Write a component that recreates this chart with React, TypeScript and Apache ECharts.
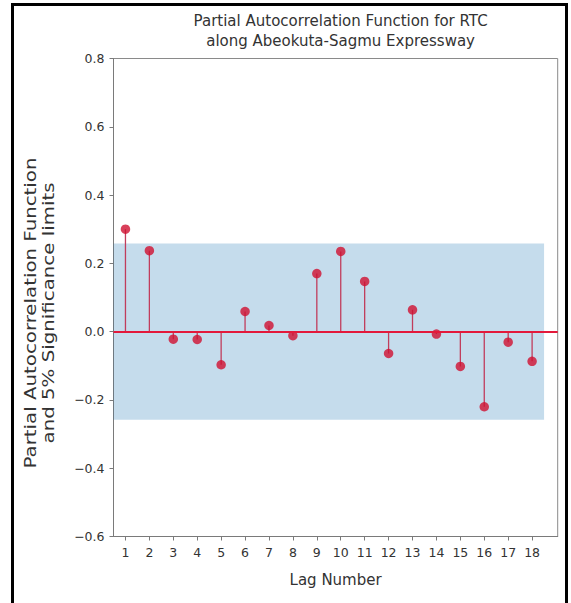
import React, { useEffect, useRef } from "react";
import * as echarts from "echarts";

const titleLines = [
  "Partial Autocorrelation Function for RTC",
  "along Abeokuta-Sagmu Expressway",
];
const xAxisName = "Lag Number";
const yAxisNameLines = [
  "Partial Autocorrelation Function",
  "and 5% Significance limits",
];
const lags = [1, 2, 3, 4, 5, 6, 7, 8, 9, 10, 11, 12, 13, 14, 15, 16, 17, 18];
const pacfValues = [
  0.3, 0.237, -0.022, -0.023, -0.097, 0.059, 0.018, -0.012, 0.17, 0.235,
  0.147, -0.064, 0.064, -0.007, -0.102, -0.22, -0.031, -0.087,
];
const significanceLimit = 0.258;
const bandLagRange = [0.5, 18.5];
const xRange = [0.5, 19.07];
const yRange = [-0.6, 0.8];
const yInterval = 0.2;

const FONT = "'DejaVu Sans', 'Liberation Sans', sans-serif";

export default function App() {
  const ref = useRef<HTMLDivElement>(null);

  useEffect(() => {
    if (!ref.current) return;
    const chart = echarts.init(ref.current, null, { renderer: "svg" });
    const points = lags.map((l, i) => [l, pacfValues[i]]);
    const bandData = [
      [bandLagRange[0], bandLagRange[1], -significanceLimit, significanceLimit],
    ];

    chart.setOption({
      animation: false,
      backgroundColor: "#ffffff",
      title: {
        text: titleLines.join("\n"),
        left: 335.6,
        top: 6,
        textAlign: "center",
        textStyle: {
          fontFamily: FONT,
          fontSize: 15,
          fontWeight: "normal",
          color: "#333333",
          lineHeight: 20,
        },
      },
      grid: {
        left: 113.5,
        right: 13.3,
        top: 58.5,
        bottom: 66.5,
        show: true,
        borderColor: "#8a8a8a",
        borderWidth: 1,
        backgroundColor: "transparent",
        containLabel: false,
        outerBoundsMode: "none",
      },
      xAxis: {
        type: "value",
        min: xRange[0],
        max: xRange[1],
        name: xAxisName,
        nameLocation: "middle",
        nameGap: 36,
        nameTextStyle: {
          fontFamily: FONT,
          fontSize: 15,
          color: "#333333",
        },
        axisLine: {
          show: true,
          onZero: false,
          lineStyle: { color: "#7a7a7a", width: 1 },
        },
        axisTick: {
          show: true,
          customValues: lags,
          length: 4,
          lineStyle: { color: "#7a7a7a" },
        },
        axisLabel: {
          customValues: lags,
          margin: 9,
          fontFamily: FONT,
          fontSize: 12.5,
          color: "#333333",
        },
        splitLine: { show: false },
      },
      yAxis: {
        type: "value",
        min: yRange[0],
        max: yRange[1],
        interval: yInterval,
        axisLine: {
          show: true,
          onZero: false,
          lineStyle: { color: "#7a7a7a", width: 1 },
        },
        axisTick: {
          show: true,
          length: 4,
          lineStyle: { color: "#7a7a7a" },
        },
        axisLabel: {
          margin: 9,
          fontFamily: FONT,
          fontSize: 12.5,
          color: "#333333",
          formatter: (v: number) => {
            const s = Math.abs(v) < 1e-9 ? "0.0" : v.toFixed(1);
            return s.replace("-", "\u2212");
          },
        },
        splitLine: { show: false },
      },
      graphic: [
        {
          type: "text",
          x: 40,
          y: 313,
          rotation: Math.PI / 2,
          scaleX: 1.32,
          silent: true,
          style: {
            text: yAxisNameLines.join("\n"),
            align: "center",
            verticalAlign: "middle",
            fontFamily: FONT,
            fontSize: 15,
            lineHeight: 18,
            fill: "#333333",
          },
        },
        {
          type: "rect",
          silent: true,
          z: 100,
          shape: { x: 12.5, y: 4.5, width: 554, height: 700 },
          style: { fill: "transparent", stroke: "#000000", lineWidth: 3 },
        },
      ],
      series: [
        {
          type: "custom",
          name: "band",
          z: 1,
          silent: true,
          data: bandData,
          renderItem: (params: any, api: any) => {
            const p1 = api.coord([api.value(0), api.value(3)]);
            const p2 = api.coord([api.value(1), api.value(2)]);
            return {
              type: "rect",
              shape: {
                x: p1[0],
                y: p1[1],
                width: p2[0] - p1[0],
                height: p2[1] - p1[1],
              },
              style: { fill: "rgba(31,119,180,0.26)" },
            };
          },
        },
        {
          type: "custom",
          name: "stems",
          z: 2,
          silent: true,
          data: points,
          renderItem: (params: any, api: any) => {
            const p0 = api.coord([api.value(0), 0]);
            const p1 = api.coord([api.value(0), api.value(1)]);
            return {
              type: "line",
              shape: { x1: p0[0], y1: p0[1], x2: p1[0], y2: p1[1] },
              style: { stroke: "#c13d5c", lineWidth: 1.3 },
            };
          },
          markLine: {
            silent: true,
            symbol: ["none", "none"],
            label: { show: false },
            lineStyle: { color: "#e3193b", width: 2, type: "solid" },
            data: [{ yAxis: 0 }],
          },
        },
        {
          type: "scatter",
          name: "PACF",
          z: 4,
          symbol: "circle",
          symbolSize: 9.5,
          itemStyle: { color: "#cf1031" },
          data: points,
        },
      ],
    });

    return () => chart.dispose();
  }, []);

  return (
    <div
      ref={ref}
      style={{ position: "fixed", left: 0, top: 0, width: 571, height: 603 }}
    />
  );
}
